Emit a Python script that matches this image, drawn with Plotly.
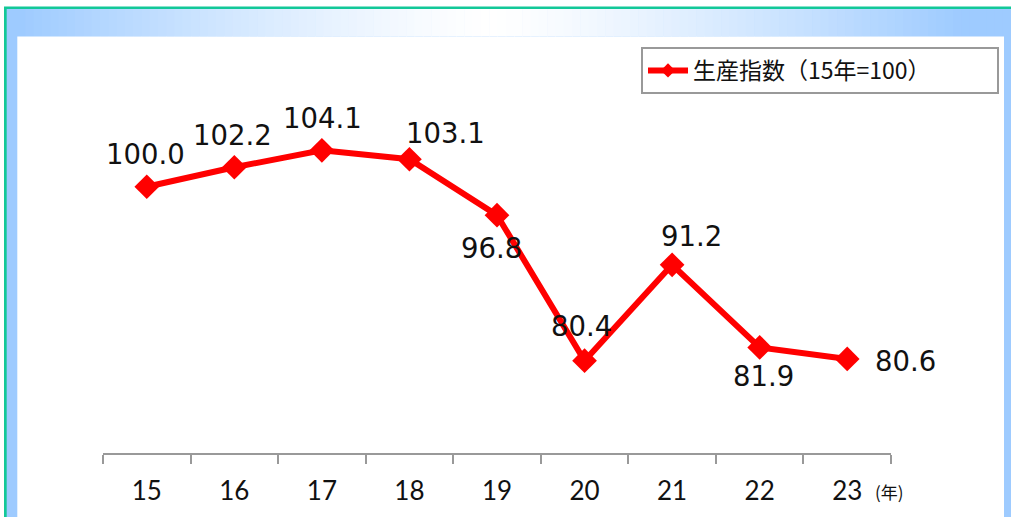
import plotly.graph_objects as go

# ---- data ----
years = ["15", "16", "17", "18", "19", "20", "21", "22", "23"]
index_values = [100.0, 102.2, 104.1, 103.1, 96.8, 80.4, 91.2, 81.9, 80.6]
value_labels = ["100.0", "102.2", "104.1", "103.1", "96.8", "80.4", "91.2", "81.9", "80.6"]
series_name = "生産指数（15年=100）"
unit_label = "(年)"

# label offsets in pixels (dx, dy with dy positive = up)
label_dx = [-1, -2, 1, 36, -6, -3, 19, 4, 58]
label_dy = [33, 32, 32, 26, -33, 35, 29, -29, -2]

W, H = 1011, 517
L, R, T, B = 103, 120, 98, 64
PW, PH = W - L - R, H - T - B


def px(x):
    return (x - L) / PW


def py(y):
    return (H - B - y) / PH


RED = "#FF0000"
BLUE = (158, 203, 255)
TEAL = "#12C898"

fig = go.Figure()
fig.add_trace(go.Scatter(
    x=years, y=index_values, mode="lines+markers", name=series_name,
    line=dict(color=RED, width=6),
    marker=dict(symbol="diamond", size=19, color=RED),
    cliponaxis=False, showlegend=False,
))
# legend entry (smaller marker as in the reference legend)
fig.add_trace(go.Scatter(
    x=[None], y=[None], mode="lines+markers", name=series_name,
    line=dict(color=RED, width=6),
    marker=dict(symbol="diamond", size=11, color=RED),
    showlegend=True,
))

annotations = []
for i, (yv, t, dx, dy) in enumerate(zip(index_values, value_labels, label_dx, label_dy)):
    annotations.append(dict(
        x=i, y=yv, xref="x", yref="y", text=t, showarrow=False,
        xshift=dx, yshift=dy, xanchor="center", yanchor="middle",
        font=dict(family="DejaVu Sans", size=27.5, color="#111111"),
    ))
annotations.append(dict(
    x=px(873), y=py(491), xref="paper", yref="paper", text=unit_label,
    showarrow=False, xanchor="left", yanchor="middle",
    font=dict(family="Noto Sans CJK JP", size=17, color="#111111"),
))

shapes = []
# teal border and blue frame
shapes.append(dict(type="rect", xref="paper", yref="paper", layer="below",
                   x0=px(4), x1=px(1030), y0=py(6.5), y1=py(540),
                   fillcolor=TEAL, line=dict(width=0)))
shapes.append(dict(type="rect", xref="paper", yref="paper", layer="below",
                   x0=px(6.7), x1=px(1030), y0=py(9), y1=py(540),
                   fillcolor="rgb(158,203,255)", line=dict(width=0)))
# gradient on top band
n = 120
x_start, x_end = 17.0, 1011.0
step = (x_end - x_start) / n
for i in range(n):
    xa = x_start + i * step
    xc = xa + step / 2
    b = min(1.0, abs(xc - 490) / 470) ** 1.3
    c = tuple(int(round(255 * (1 - b) + BLUE[k] * b)) for k in range(3))
    shapes.append(dict(type="rect", xref="paper", yref="paper", layer="below",
                       x0=px(xa), x1=px(xa + step + 0.6), y0=py(9), y1=py(36.5),
                       fillcolor="rgb(%d,%d,%d)" % c, line=dict(width=0)))
# white inner panel
shapes.append(dict(type="rect", xref="paper", yref="paper", layer="below",
                   x0=px(17.3), x1=px(1004), y0=py(36.5), y1=py(540),
                   fillcolor="white", line=dict(width=0)))

fig.update_layout(
    width=W, height=H,
    margin=dict(l=L, r=R, t=T, b=B, pad=0, autoexpand=False),
    paper_bgcolor="white", plot_bgcolor="rgba(0,0,0,0)",
    showlegend=True,
    legend=dict(
        x=px(641), y=py(47), xanchor="left", yanchor="top",
        orientation="h",
        bgcolor="white", bordercolor="#999999", borderwidth=2,
        font=dict(family="Noto Sans CJK JP", size=23, color="#111111"),
        itemwidth=40, entrywidth=299,
    ),
    xaxis=dict(
        type="category", range=[-0.5, 8.5],
        showline=True, linecolor="#999999", linewidth=2,
        ticks="outside", tickson="boundaries", ticklen=9,
        tickcolor="#999999", tickwidth=2,
        showgrid=False, zeroline=False,
        tickfont=dict(family="Lato", size=26, color="#111111"),
        ticklabelstandoff=14,
    ),
    yaxis=dict(
        range=[70, 110], showticklabels=False, showgrid=False,
        zeroline=False, showline=False, ticks="",
    ),
    shapes=shapes,
    annotations=annotations,
)

fig.write_html("out.html", config={"displayModeBar": False},
               post_script="document.body.style.margin='0';")
